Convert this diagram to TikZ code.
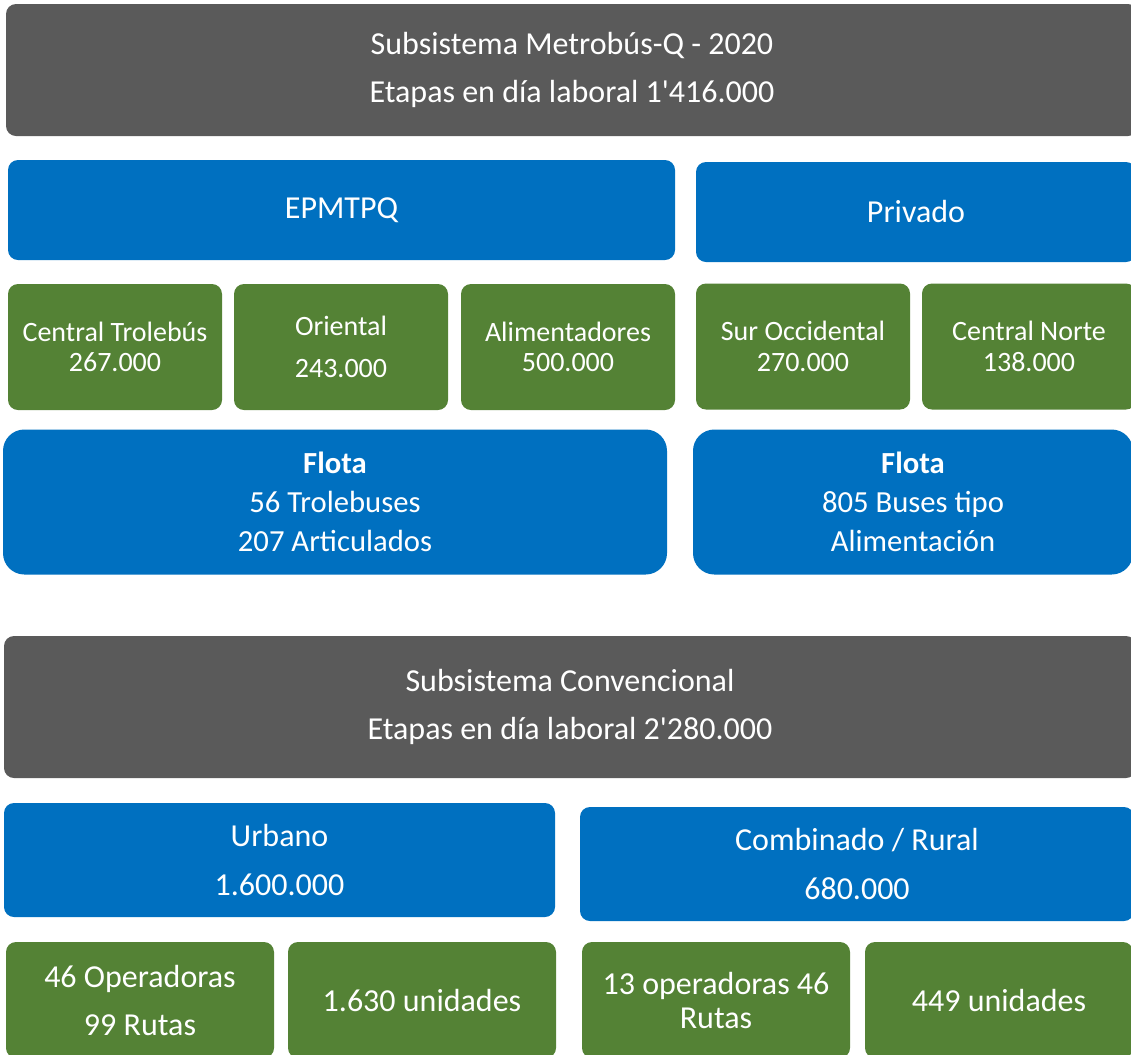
\documentclass[tikz,border=0pt]{standalone}
\usepackage{fontspec}
\setmainfont{Carlito}
\usepackage{tikz}
\definecolor{grisbox}{HTML}{5A5A5A}
\definecolor{azulbox}{HTML}{0070C0}
\definecolor{verdebox}{HTML}{548235}

\begin{document}
\begin{tikzpicture}[x=0.75pt,y=-0.75pt]
    \tikzstyle{caja}=[rectangle,rounded corners=7.5pt,inner sep=0pt,text=white,align=center]
    \tikzstyle{sub}=[caja,fill=grisbox,minimum width=849pt,font=\fontsize{24}{36.5}\selectfont]
    \tikzstyle{oper}=[caja,fill=azulbox,minimum height=75pt,font=\fontsize{24}{36.5}\selectfont]
    \tikzstyle{linea}=[caja,fill=verdebox,minimum width=160.5pt,minimum height=94.5pt,font=\fontsize{21}{23}\selectfont]
    \tikzstyle{flota}=[caja,fill=azulbox,rounded corners=16pt,minimum height=108.75pt,font=\fontsize{23}{29}\selectfont]
    \tikzstyle{grupo}=[caja,fill=azulbox,minimum width=414pt,minimum height=85.5pt,font=\fontsize{24}{36.5}\selectfont]
    \tikzstyle{dato}=[caja,fill=verdebox,minimum width=201pt,minimum height=87pt,font=\fontsize{24}{36}\selectfont]
    \useasboundingbox (0,0) rectangle (1131,1054);
    \clip (0,0) rectangle (1131,1054);
    % Metrobus-Q
    \node[sub,minimum height=99pt] (metro) at (572,70) {Subsistema Metrobús-Q - 2020\\Etapas en día laboral 1\textquotesingle416.000};
    \node[oper,minimum width=500.25pt] (epm) at (341.5,210) {EPMTPQ};
    \node[oper,minimum width=330pt] (privado) at (916,212) {Privado};
    \node[linea] (trole) at (115,347) {Central Trolebús\\267.000};
    \node[linea,font=\fontsize{21}{31.5}\selectfont] (oriental) at (341,347) {Oriental\\243.000};
    \node[linea] (alim) at (568,347) {Alimentadores\\500.000};
    \node[linea] (suroc) at (803,346.5) {Sur Occidental\\270.000};
    \node[linea] (cnorte) at (1029,346.5) {Central Norte\\138.000};
    \node[flota,minimum width=498pt] (flotaepm) at (335,502) {\textbf{Flota}\\56 Trolebuses\\207 Articulados};
    \node[flota,minimum width=330pt] (flotapriv) at (913,502) {\textbf{Flota}\\805 Buses tipo\\Alimentación};
    % Convencional
    \node[sub,minimum height=106.5pt] (conv) at (570,707) {Subsistema Convencional\\Etapas en día laboral 2\textquotesingle280.000};
    \node[grupo,minimum width=413.25pt] (urbano) at (279.5,860) {Urbano\\1.600.000};
    \node[grupo,minimum width=415.5pt] (rural) at (857,864) {Combinado / Rural\\680.000};
    \node[dato] (opurb) at (140,1000) {46 Operadoras\\99 Rutas};
    \node[dato] (uniurb) at (422,1000) {1.630 unidades};
    \node[dato,font=\fontsize{24}{25.5}\selectfont] (oprur) at (716,1000) {13 operadoras 46\\Rutas};
    \node[dato] (unirur) at (999,1000) {449 unidades};
\end{tikzpicture}
\end{document}
